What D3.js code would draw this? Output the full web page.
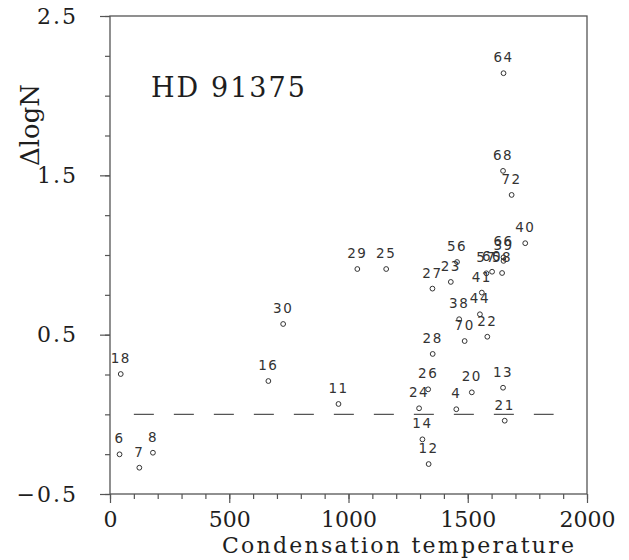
<!DOCTYPE html>
<html>
<head>
<meta charset="utf-8">
<script src="https://cdn.jsdelivr.net/npm/d3@7"></script>
<style>
  html, body { margin: 0; padding: 0; background: #fff; }
  svg { display: block; }
</style>
</head>
<body>
<svg id="chart" width="629" height="560"></svg>
<script>
// ---- data ----
const elements = ["6","7","8","18","16","30","11","29","25","24","26","14","12","28","27","23","56","4","20","38","70","22","44","41","57","60","58","66","39","40","13","21","64","68","72"];
const condTemp = [40,123,180,45,664,726,958,1037,1158,1296,1334,1310,1336,1353,1352,1429,1455,1452,1517,1464,1487,1582,1551,1559,1578,1602,1644,1650,1650,1741,1648,1655,1650,1648,1684];
const deltaLogN = [-0.251,-0.335,-0.241,0.253,0.209,0.567,0.065,0.912,0.912,0.038,0.157,-0.157,-0.312,0.379,0.789,0.831,0.956,0.032,0.138,0.597,0.460,0.487,0.628,0.764,0.885,0.895,0.887,0.985,0.963,1.074,0.167,-0.040,2.141,1.528,1.377];
const xTickLabels = [0, 500, 1000, 1500, 2000];
const yTickLabels = [-0.5, 0.5, 1.5, 2.5];
const refLine = { y: 0, from: 100, to: 1860 };
const title = "HD 91375";
const xTitle = "Condensation temperature";
const yTitle = "\u0394logN";

// ---- layout ----
const svg = d3.select("#chart");
const L = 110, R = 587, T = 16, B = 494;
const x = d3.scaleLinear().domain([0, 2000]).range([L, R]);
const y = d3.scaleLinear().domain([-0.5, 2.5]).range([B, T]);
const ink = "#555";
const serif = "'DejaVu Serif', 'Liberation Serif', serif";
const txt = "#1e1e1e";

// frame
svg.append("rect").attr("x", L).attr("y", T).attr("width", R - L).attr("height", B - T)
  .attr("fill", "none").attr("stroke", ink).attr("stroke-width", 1.3);

// x axis
const xMinor = d3.range(0, 2001, 100);
svg.append("g").attr("transform", `translate(0,${B})`)
  .call(d3.axisBottom(x).tickValues(xMinor).tickSize(5).tickFormat(""))
  .call(g => g.select(".domain").remove())
  .call(g => g.selectAll("line").attr("stroke", ink).attr("stroke-width", 1.2));
svg.append("g").attr("transform", `translate(0,${B})`)
  .call(d3.axisBottom(x).tickValues(xTickLabels).tickSize(9).tickPadding(8).tickFormat(d3.format("d")))
  .call(g => g.select(".domain").remove())
  .call(g => g.selectAll("line").attr("stroke", ink).attr("stroke-width", 1.2))
  .call(g => g.selectAll("text").attr("font-family", serif).attr("font-size", 22).attr("fill", txt));

// y axis
const yMinor = d3.range(-0.5, 2.51, 0.25);
svg.append("g").attr("transform", `translate(${L},0)`)
  .call(d3.axisLeft(y).tickValues(yMinor).tickSize(5).tickFormat(""))
  .call(g => g.select(".domain").remove())
  .call(g => g.selectAll("line").attr("stroke", ink).attr("stroke-width", 1.2));
svg.append("g").attr("transform", `translate(${L},0)`)
  .call(d3.axisLeft(y).tickValues(yTickLabels).tickSize(10).tickPadding(22)
    .tickFormat(d => d3.format(".1f")(d).replace("-", "\u2212")))
  .call(g => g.select(".domain").remove())
  .call(g => g.selectAll("line").attr("stroke", ink).attr("stroke-width", 1.2))
  .call(g => g.selectAll("text").attr("font-family", serif).attr("font-size", 22)
    .attr("letter-spacing", 2).attr("fill", txt));

// axis titles
svg.append("text").attr("x", 222).attr("y", 553)
  .attr("font-family", serif).attr("font-size", 22)
  .attr("textLength", 352).attr("lengthAdjust", "spacing")
  .attr("fill", txt).text(xTitle);
svg.append("text").attr("transform", "translate(39,166) rotate(-90)")
  .attr("font-family", serif).attr("font-size", 26)
  .attr("textLength", 82).attr("lengthAdjust", "spacingAndGlyphs")
  .attr("fill", txt).text(yTitle);

// chart title
svg.append("text").attr("x", 151).attr("y", 97)
  .attr("font-family", serif).attr("font-size", 27)
  .attr("textLength", 154).attr("lengthAdjust", "spacing")
  .attr("fill", txt).text(title);

// reference dashed line
svg.append("line")
  .attr("x1", x(refLine.from)).attr("x2", x(refLine.to))
  .attr("y1", y(refLine.y)).attr("y2", y(refLine.y))
  .attr("stroke", ink).attr("stroke-width", 1.3).attr("stroke-dasharray", "20,20");

// points
const pts = elements.map((e, i) => ({ e, t: condTemp[i], v: deltaLogN[i] }));
svg.append("g").selectAll("circle").data(pts).join("circle")
  .attr("cx", d => x(d.t)).attr("cy", d => y(d.v)).attr("r", 2.4)
  .attr("fill", "none").attr("stroke", "#333").attr("stroke-width", 1);
svg.append("g").selectAll("text").data(pts).join("text")
  .attr("x", d => x(d.t)).attr("y", d => y(d.v) - 11)
  .attr("text-anchor", "middle")
  .attr("font-family", "'DejaVu Sans', sans-serif").attr("font-size", 13.5)
  .attr("letter-spacing", 1.5).attr("fill", "#333")
  .text(d => d.e);
</script>
</body>
</html>
